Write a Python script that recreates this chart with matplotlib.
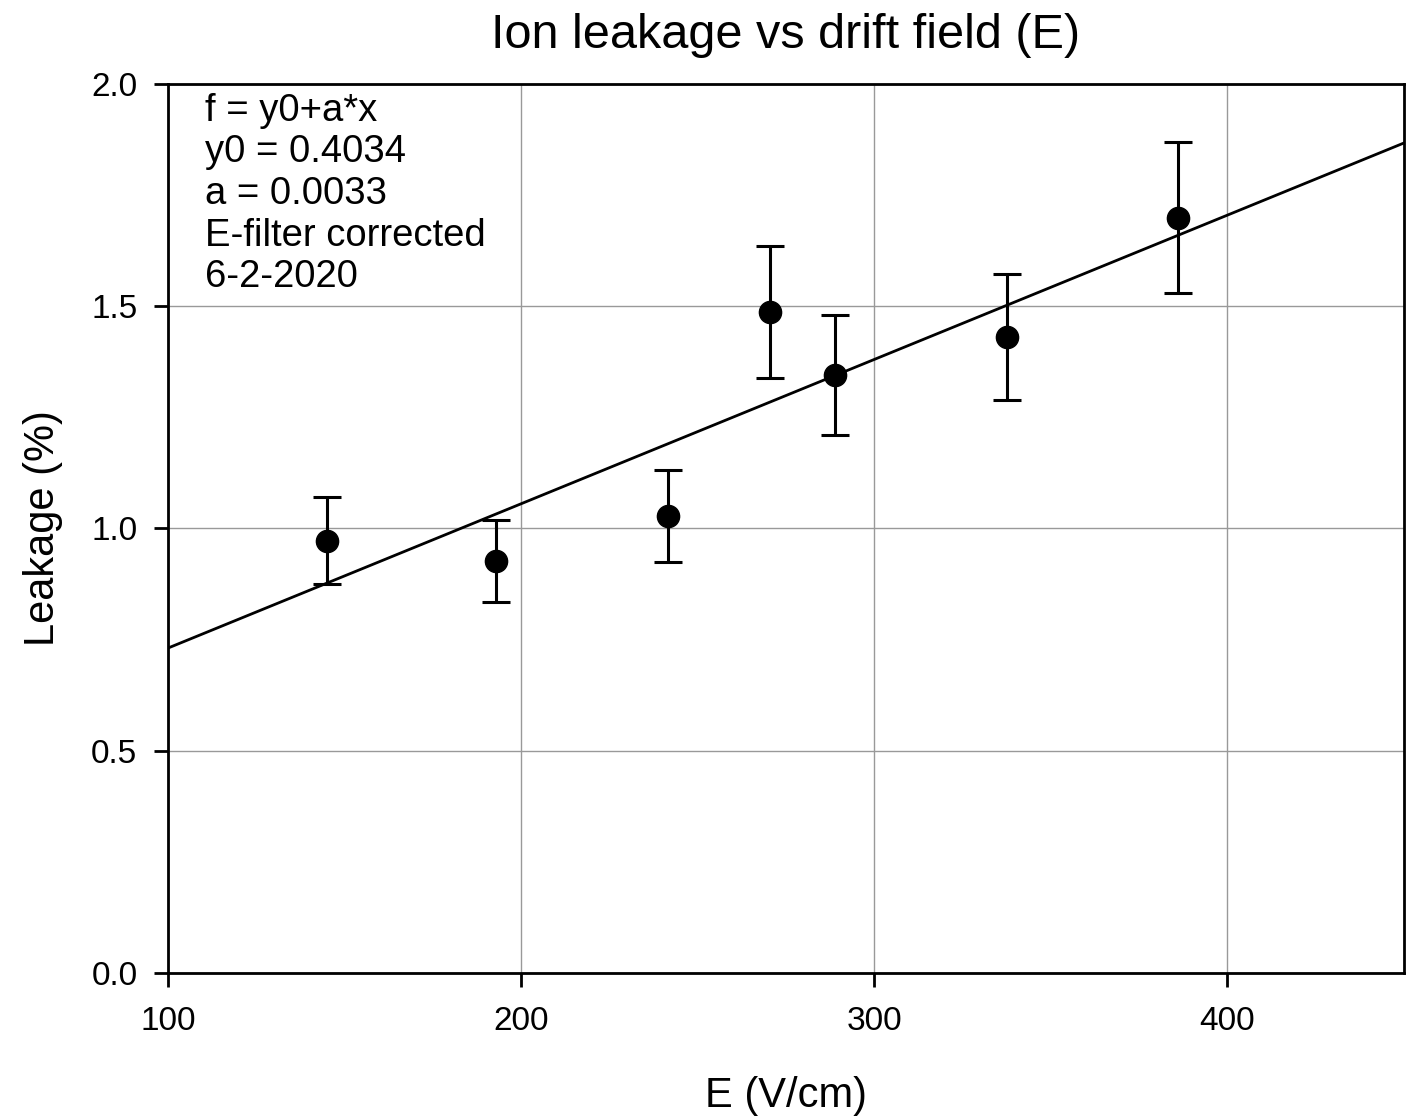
import matplotlib
matplotlib.use("Agg")
import matplotlib.pyplot as plt
import numpy as np

# Data
field = [145, 193, 241.5, 270.5, 289, 337.5, 386]
leakage = [0.972, 0.927, 1.028, 1.487, 1.345, 1.431, 1.699]
err = [0.098, 0.093, 0.103, 0.148, 0.135, 0.141, 0.17]
# fitted line as drawn (annotation shows rounded coefficients)
fit_y0 = 0.4064
fit_a = 0.003246
annot_lines = ["f = y0+a*x", "y0 = 0.4034", "a = 0.0033", "E-filter corrected", "6-2-2020"]

plt.rcParams['font.family'] = ['Liberation Sans', 'DejaVu Sans']

fig = plt.figure(figsize=(14.18, 11.18), dpi=100)
ax = fig.add_axes([0.1185, 0.1297, 0.990 - 0.1185, 0.9249 - 0.1297])

xfit = np.array([100, 450])
ax.plot(xfit, fit_y0 + fit_a * xfit, color='black', lw=2.0, zorder=3)
ax.errorbar(field, leakage, yerr=err, fmt='o', color='black', ms=16,
            capsize=10, elinewidth=2.2, capthick=2.2, zorder=4)

ax.set_xlim(100, 450)
ax.set_ylim(0, 2.0)
ax.set_xticks([100, 200, 300, 400])
ax.set_yticks([0.0, 0.5, 1.0, 1.5, 2.0])
ax.set_yticklabels(["0.0", "0.5", "1.0", "1.5", "2.0"])
ax.grid(True, color='#999999', lw=1.0)
ax.set_axisbelow(True)
for s in ax.spines.values():
    s.set_linewidth(2)
ax.tick_params(axis='x', direction='out', length=10, width=2, labelsize=24, pad=14)
ax.tick_params(axis='y', direction='out', length=10, width=2, labelsize=24, pad=12)

ax.set_xlabel("E (V/cm)", fontsize=30, labelpad=28)
ax.set_ylabel("Leakage (%)", fontsize=30, labelpad=20)
ax.set_title("Ion leakage vs drift field (E)", fontsize=35, pad=26)

ax.text(0.03, 0.99, "\n".join(annot_lines), transform=ax.transAxes,
        fontsize=27.5, va='top', ha='left', linespacing=1.2)

fig.savefig("out.png", dpi=100)
